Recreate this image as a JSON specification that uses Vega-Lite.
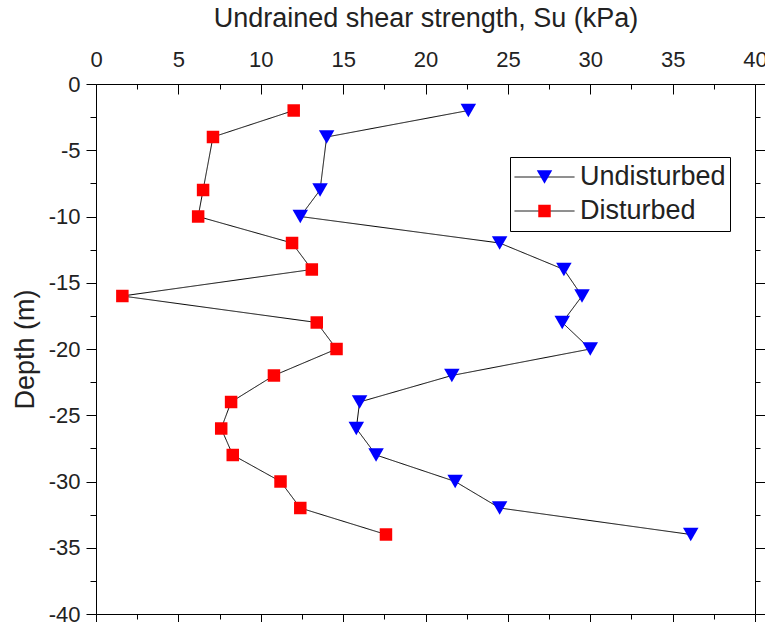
{
  "$schema": "https://vega.github.io/schema/vega-lite/v6.json",
  "width": 659,
  "height": 530,
  "autosize": {"type": "none"},
  "padding": {"left": 96, "top": 84, "right": 10, "bottom": 8},
  "background": "white",
  "config": {
    "font": "Liberation Sans",
    "view": {"stroke": null},
    "axis": {
      "domainColor": "black",
      "tickColor": "black",
      "domainWidth": 1,
      "tickWidth": 1,
      "labelColor": "#222222",
      "titleColor": "#222222",
      "labelFontSize": 22,
      "titleFontSize": 27,
      "titleFontWeight": "normal",
      "grid": false,
      "labelFlush": false,
      "labelOverlap": false
    }
  },
  "data": {
    "values": [
      {"series": "Undisturbed", "depth": -2, "su": 22.6},
      {"series": "Undisturbed", "depth": -4, "su": 14.0},
      {"series": "Undisturbed", "depth": -8, "su": 13.6},
      {"series": "Undisturbed", "depth": -10, "su": 12.4},
      {"series": "Undisturbed", "depth": -12, "su": 24.5},
      {"series": "Undisturbed", "depth": -14, "su": 28.4},
      {"series": "Undisturbed", "depth": -16, "su": 29.5},
      {"series": "Undisturbed", "depth": -18, "su": 28.3},
      {"series": "Undisturbed", "depth": -20, "su": 30.0},
      {"series": "Undisturbed", "depth": -22, "su": 21.6},
      {"series": "Undisturbed", "depth": -24, "su": 16.0},
      {"series": "Undisturbed", "depth": -26, "su": 15.8},
      {"series": "Undisturbed", "depth": -28, "su": 17.0},
      {"series": "Undisturbed", "depth": -30, "su": 21.8},
      {"series": "Undisturbed", "depth": -32, "su": 24.5},
      {"series": "Undisturbed", "depth": -34, "su": 36.1},
      {"series": "Disturbed", "depth": -2, "su": 12.0},
      {"series": "Disturbed", "depth": -4, "su": 7.1},
      {"series": "Disturbed", "depth": -8, "su": 6.5},
      {"series": "Disturbed", "depth": -10, "su": 6.2},
      {"series": "Disturbed", "depth": -12, "su": 11.9},
      {"series": "Disturbed", "depth": -14, "su": 13.1},
      {"series": "Disturbed", "depth": -16, "su": 1.6},
      {"series": "Disturbed", "depth": -18, "su": 13.4},
      {"series": "Disturbed", "depth": -20, "su": 14.6},
      {"series": "Disturbed", "depth": -22, "su": 10.8},
      {"series": "Disturbed", "depth": -24, "su": 8.2},
      {"series": "Disturbed", "depth": -26, "su": 7.6},
      {"series": "Disturbed", "depth": -28, "su": 8.3},
      {"series": "Disturbed", "depth": -30, "su": 11.2},
      {"series": "Disturbed", "depth": -32, "su": 12.4},
      {"series": "Disturbed", "depth": -34, "su": 17.6}
    ]
  },
  "layer": [
    {
      "mark": {"type": "line", "color": "black", "strokeWidth": 1},
      "encoding": {
        "x": {
          "field": "su", "type": "quantitative",
          "scale": {"domain": [0, 40], "nice": false},
          "axis": {
            "orient": "top",
            "values": [0, 2.5, 5, 7.5, 10, 12.5, 15, 17.5, 20, 22.5, 25, 27.5, 30, 32.5, 35, 37.5, 40],
            "labelExpr": "datum.value % 5 === 0 ? '' + datum.value : ''",
            "tickSize": {"condition": {"test": "datum.value % 5 === 0", "value": -10}, "value": -5},
            "labelPadding": 23,
            "title": "Undrained shear strength, Su (kPa)",
            "titlePadding": 11
          }
        },
        "y": {
          "field": "depth", "type": "quantitative",
          "scale": {"domain": [-40, 0], "nice": false},
          "axis": {
            "orient": "left",
            "values": [-40, -37.5, -35, -32.5, -30, -27.5, -25, -22.5, -20, -17.5, -15, -12.5, -10, -7.5, -5, -2.5, 0],
            "labelExpr": "datum.value % 5 === 0 ? '' + datum.value : ''",
            "tickSize": {"condition": {"test": "datum.value % 5 === 0", "value": 10}, "value": 6},
            "labelPadding": 6,
            "title": "Depth (m)",
            "titlePadding": 9
          }
        },
        "order": {"field": "depth", "sort": "descending"},
        "strokeDash": {
          "field": "series", "type": "nominal", "sort": "descending",
          "scale": {"range": [[1, 0], [1, 0]]},
          "legend": {
            "title": null,
            "orient": "none",
            "legendX": 414,
            "legendY": 73,
            "direction": "vertical",
            "columns": 1,
            "symbolType": "stroke",
            "symbolSize": 3600,
            "symbolStrokeWidth": 1,
            "symbolStrokeColor": "black",
            "symbolDash": [1, 0],
            "labelFontSize": 27,
            "labelColor": "#222222",
            "labelOffset": 5,
            "labelLimit": 400,
            "padding": 4,
            "strokeColor": "black",
            "fillColor": "white",
            "clipHeight": 32,
            "rowPadding": 2
          }
        }
      }
    },
    {
      "mark": {"type": "point", "filled": true, "opacity": 1},
      "encoding": {
        "x": {
          "field": "su", "type": "quantitative",
          "scale": {"domain": [0, 40], "nice": false},
          "axis": {
            "orient": "bottom",
            "values": [0, 2.5, 5, 7.5, 10, 12.5, 15, 17.5, 20, 22.5, 25, 27.5, 30, 32.5, 35, 37.5, 40],
            "labels": false,
            "tickSize": {"condition": {"test": "datum.value % 5 === 0", "value": 10}, "value": 5},
            "title": null
          }
        },
        "y": {
          "field": "depth", "type": "quantitative",
          "scale": {"domain": [-40, 0], "nice": false},
          "axis": {
            "orient": "right",
            "values": [-40, -37.5, -35, -32.5, -30, -27.5, -25, -22.5, -20, -17.5, -15, -12.5, -10, -7.5, -5, -2.5, 0],
            "labels": false,
            "tickSize": {"condition": {"test": "datum.value % 5 === 0", "value": 10}, "value": 5},
            "title": null
          }
        },
        "shape": {
          "field": "series", "type": "nominal",
          "scale": {"domain": ["Undisturbed", "Disturbed"], "range": ["triangle-down", "square"]}
        },
        "size": {
          "field": "series", "type": "nominal",
          "scale": {"domain": ["Undisturbed", "Disturbed"], "range": [240, 156]}
        },
        "color": {
          "field": "series", "type": "nominal",
          "scale": {"domain": ["Undisturbed", "Disturbed"], "range": ["#0000ff", "#ff0000"]},
          "legend": {
            "title": null,
            "orient": "none",
            "legendX": 436.5,
            "legendY": 73,
            "direction": "vertical",
            "columns": 1,
            "symbolStrokeWidth": 0,
            "symbolOpacity": 1,
            "labelFontSize": 1,
            "labelOpacity": 0,
            "padding": 4,
            "clipHeight": 32,
            "rowPadding": 2,
            "zindex": 1
          }
        }
      }
    }
  ],
  "resolve": {"axis": {"x": "independent", "y": "independent"}}
}
